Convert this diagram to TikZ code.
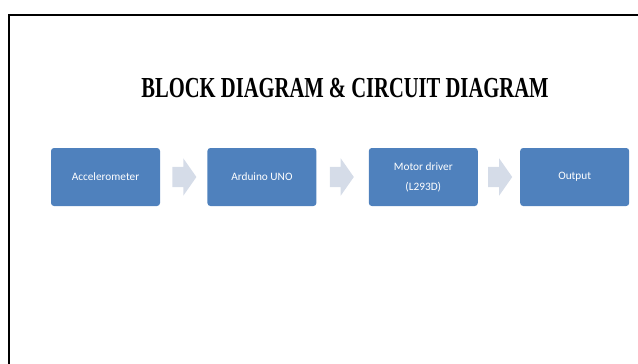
\documentclass[tikz,border=0pt]{standalone}
\usepackage{fontspec}
\setmainfont{Carlito}
\newfontfamily\titlefont[FakeStretch=0.71]{Liberation Serif}
\usepackage{tikz}
\usetikzlibrary{shapes,arrows,positioning}
\definecolor{boxblue}{HTML}{4F81BD}
\definecolor{chevgrey}{HTML}{D5DCE8}
\tikzstyle{block} = [fill=boxblue, rectangle, rounded corners=3pt, text=white,
    font=\fontsize{11.3}{14}\selectfont, align=center,
    minimum height=58pt, minimum width=109pt, inner sep=0pt]
\tikzstyle{chev} = [single arrow, fill=chevgrey, draw=none,
    inner xsep=0pt, inner ysep=10pt,
    minimum height=24pt, single arrow head extend=8.5pt,
    single arrow tip angle=110]
\tikzstyle{heading} = [font=\titlefont\bfseries\fontsize{29}{30}\selectfont]

\begin{document}
\begin{tikzpicture}[x=1pt, y=-1pt]
    \useasboundingbox (0,0) rectangle (638,364);
    % We start with the frame and the title
    \coordinate (tr) at (645,15);
    \coordinate (tl) at (9,15);
    \coordinate (bl) at (9,370);
    \draw [line width=2pt] (tr) -- (tl) -- (bl);
    \node [heading] (title) at (345,88) {BLOCK DIAGRAM \& CIRCUIT DIAGRAM};
    % We then place the blocks
    \node [block] (acc) at (105.5,177) {Accelerometer};
    \node [block, right=47pt of acc] (uno) {Arduino UNO};
    \node [block, right=52pt of uno] (driver) {Motor driver\\[6pt](L293D)};
    \node [block, right=42pt of driver] (out) {Output};
    % We put a block arrow between each pair of blocks
    \node [chev, right=12pt of acc] (a1) {};
    \node [chev, right=13pt of uno] (a2) {};
    \node [chev, right=10pt of driver] (a3) {};
\end{tikzpicture}
\end{document}
